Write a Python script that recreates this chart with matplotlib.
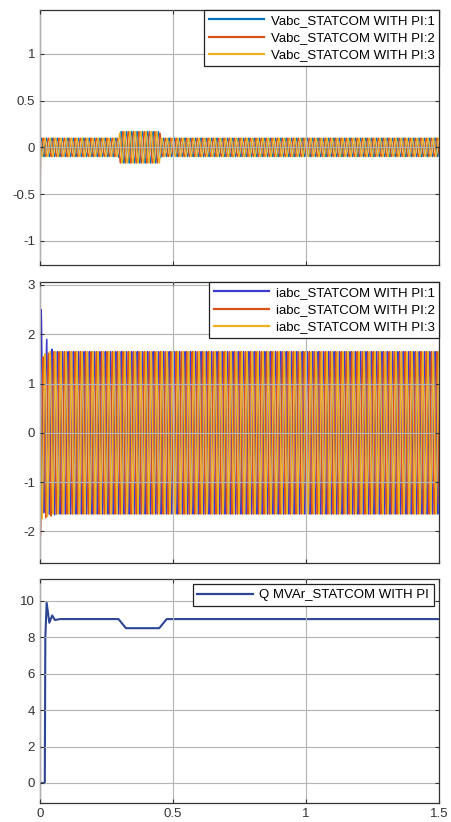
import numpy as np
import matplotlib
matplotlib.use("Agg")
import matplotlib.pyplot as plt

plt.rcParams['font.family'] = ['Liberation Sans', 'DejaVu Sans']
plt.rcParams['axes.unicode_minus'] = False

# --- data ---
freq_hz = 50.0
t_end = 1.5
phase_shift = [0.0, -2 * np.pi / 3, 2 * np.pi / 3]

# voltage envelope (per phase): breakpoints in time and amplitude
v_env_t = [0.0, 0.002, 0.295, 0.300, 0.450, 0.455, 1.5]
v_env = [
    [0.10, 0.10, 0.10, 0.17, 0.17, 0.10, 0.10],
    [1.15, 0.10, 0.10, 0.17, 0.17, 0.10, 0.10],
    [1.40, 0.10, 0.10, 0.17, 0.17, 0.10, 0.10],
]
v_labels = ["Vabc_STATCOM WITH PI:1", "Vabc_STATCOM WITH PI:2", "Vabc_STATCOM WITH PI:3"]
v_ticks = [-1, -0.5, 0, 0.5, 1]
v_tick_labels = ['-1', '-0.5', '0', '0.5', '1']

# current envelope (per phase)
i_env_t = [
    [0.0, 0.005, 0.008, 0.015, 0.025, 0.035, 0.045, 0.06, 1.5],
    [0.0, 0.003, 0.010, 0.020, 0.030, 0.040, 0.050, 0.06, 1.5],
    [0.0, 0.004, 0.008, 0.018, 0.028, 0.040, 0.050, 0.06, 1.5],
]
i_env = [
    [1.0, 2.5, 2.2, 1.60, 1.90, 1.65, 1.70, 1.65, 1.65],
    [2.1, 2.1, 1.5, 1.75, 1.60, 1.70, 1.65, 1.65, 1.65],
    [1.0, 1.6, 1.75, 1.60, 1.70, 1.65, 1.65, 1.65, 1.65],
]
i_labels = ["iabc_STATCOM WITH PI:1", "iabc_STATCOM WITH PI:2", "iabc_STATCOM WITH PI:3"]

# reactive power
q_t = [0.0, 0.018, 0.020, 0.025, 0.035, 0.046, 0.056, 0.075, 0.295, 0.323, 0.448, 0.476, 1.5]
q_val = [0.0, 0.0, 8.0, 9.9, 8.8, 9.2, 8.95, 9.0, 9.0, 8.5, 8.5, 9.0, 9.0]
q_label = "Q MVAr_STATCOM WITH PI"

v_colors = ['#0072BD', '#D95319', '#EDB120']
i_colors = ['#3B3BD2', '#D95319', '#EDB120']
q_color = '#2C4595'

t = np.linspace(0, t_end, 60001)

fig = plt.figure(figsize=(4.51, 8.22), dpi=100)
ax1 = fig.add_axes([0.0887, 0.6776, 0.885, 0.3102])
ax2 = fig.add_axes([0.0887, 0.3151, 0.885, 0.3418])
ax3 = fig.add_axes([0.0887, 0.0231, 0.885, 0.2725])


def style(ax, yticks, ylim, show_x):
    ax.set_xlim(0, 1.5)
    ax.set_ylim(*ylim)
    ax.set_xticks([0, 0.5, 1, 1.5])
    ax.set_yticks(yticks)
    ax.grid(True, color='#b4b4b4', linewidth=0.8)
    ax.set_axisbelow(False)
    ax.tick_params(direction='in', top=True, right=True, labelsize=9.5,
                   colors='#333333', length=3)
    if not show_x:
        ax.tick_params(labelbottom=False)
    else:
        ax.set_xticklabels(['0', '0.5', '1', '1.5'])
    for s in ax.spines.values():
        s.set_color('#333333')
        s.set_linewidth(0.9)


def legend(ax, pad=0.0):
    leg = ax.legend(loc='upper right', fontsize=9.5, handlelength=4.2,
                    fancybox=False, framealpha=1, edgecolor='#222222',
                    borderaxespad=pad, borderpad=0.35, labelspacing=0.38,
                    handletextpad=0.5)
    leg.get_frame().set_linewidth(0.9)
    for h in leg.get_lines():
        h.set_linewidth(1.6)


for k in range(3):
    env = np.interp(t, v_env_t, v_env[k])
    ax1.plot(t, env * np.sin(2 * np.pi * freq_hz * t + phase_shift[k]),
             color=v_colors[k], linewidth=0.8, label=v_labels[k])
style(ax1, v_ticks, (-1.26, 1.47), False)
ax1.set_yticklabels(v_tick_labels)
legend(ax1)

for k in range(3):
    env = np.interp(t, i_env_t[k], i_env[k])
    ax2.plot(t, env * np.sin(2 * np.pi * freq_hz * t + phase_shift[k]),
             color=i_colors[k], linewidth=0.9, label=i_labels[k])
style(ax2, [-2, -1, 0, 1, 2, 3], (-2.64, 3.06), False)
legend(ax2)

ax3.plot(q_t, q_val, color=q_color, linewidth=1.5, label=q_label)
style(ax3, [0, 2, 4, 6, 8, 10], (-1.1, 11.2), True)
legend(ax3, pad=0.4)

fig.savefig("out.png", dpi=100)
